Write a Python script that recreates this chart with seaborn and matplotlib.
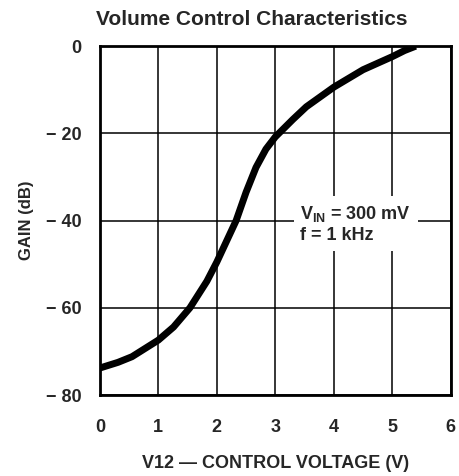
import matplotlib
matplotlib.use("Agg")
import matplotlib.pyplot as plt
import seaborn as sns
import pandas as pd

sns.set_theme(style="white")
plt.rcParams['font.family'] = ['Liberation Sans', 'DejaVu Sans']
plt.rcParams['mathtext.fontset'] = 'custom'
plt.rcParams['mathtext.bf'] = 'Liberation Sans:bold'
plt.rcParams['mathtext.rm'] = 'Liberation Sans'

voltage = [0.0, 0.31, 0.55, 1.0, 1.26, 1.54, 1.83, 2.0, 2.33, 2.5, 2.67, 2.84,
           3.0, 3.18, 3.3, 3.53, 4.0, 4.5, 5.0, 5.21, 5.4]
gain = [-73.8, -72.5, -71.2, -67.4, -64.4, -60, -53.9, -49.5, -40, -33.5, -27.8, -23.6,
        -20.8, -18.4, -16.8, -13.9, -9.4, -5.4, -2.4, -1.0, 0]
x_ticks = [0, 1, 2, 3, 4, 5, 6]
y_ticks = [0, -20, -40, -60, -80]
y_tick_labels = ["0", "\u2212 20", "\u2212 40", "\u2212 60", "\u2212 80"]

df = pd.DataFrame({"V": voltage, "G": gain})

fig = plt.figure(figsize=(4.6, 4.76), dpi=100)
ax = fig.add_axes([0.217, 0.170, 0.763, 0.733])
sns.lineplot(data=df, x="V", y="G", ax=ax, color="black", linewidth=5,
             solid_capstyle="butt", solid_joinstyle="round", zorder=3)
ax.set_xlim(0, 6)
ax.set_ylim(-80, 0)
ax.set_xticks(x_ticks)
ax.set_yticks(y_ticks)
ax.set_xticklabels([str(t) for t in x_ticks], fontsize=13, fontweight="bold")
ax.set_yticklabels(y_tick_labels, fontsize=13, fontweight="bold")
ax.tick_params(axis="y", length=0, pad=13)
ax.tick_params(axis="x", length=0, pad=17)
ax.grid(True, color="black", linewidth=1.1)
for s in ax.spines.values():
    s.set_color("black")
    s.set_linewidth(2)
ax.set_xlabel("V12 \u2014 CONTROL VOLTAGE (V)", fontsize=13, fontweight="bold", labelpad=14)
ax.set_ylabel("GAIN (dB)", fontsize=12, fontweight="bold", labelpad=9)

ax.text(3.43, -40.7, r"V$_{\mathbf{IN}}$ = 300 mV" + "\nf = 1 kHz", fontsize=13,
        fontweight="bold", ha="left", va="center", multialignment="left",
        linespacing=1.25, zorder=4,
        bbox=dict(facecolor="white", edgecolor="none", pad=5))

fig.text(0.547, 0.96, "Volume Control Characteristics", ha="center", va="center",
         fontsize=15, fontweight="bold")
fig.savefig("out.png", dpi=100)
